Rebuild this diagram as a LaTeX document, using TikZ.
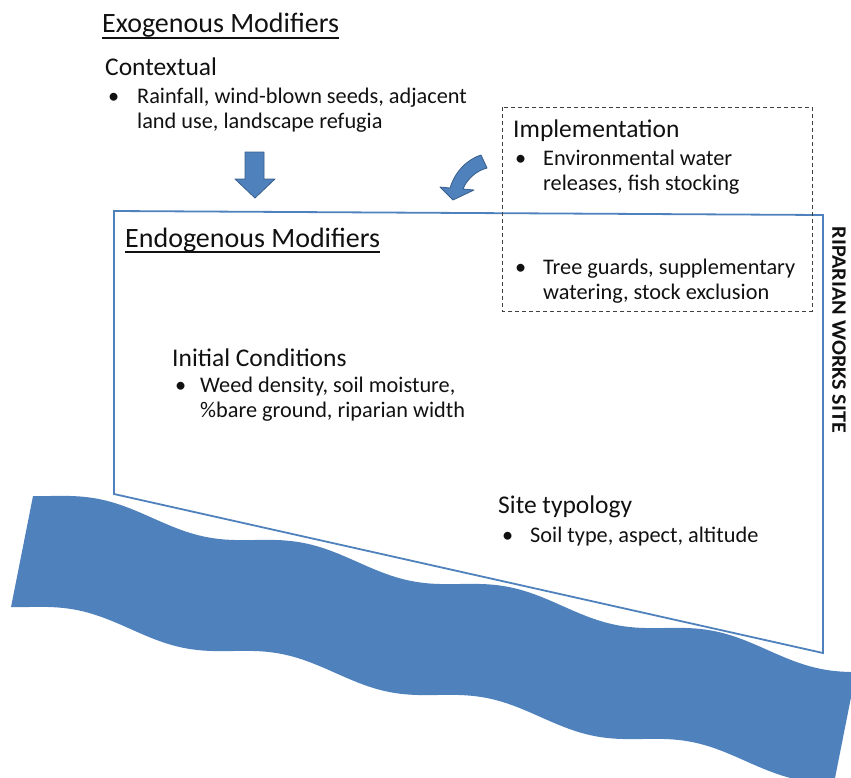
\documentclass[tikz,border=0pt]{standalone}
\usepackage{fontspec}
\usepackage{graphicx}
\setmainfont{Carlito}
\usetikzlibrary{calc}
\definecolor{ofblue}{HTML}{4F81BD}
\definecolor{ofdark}{HTML}{385D8A}
\definecolor{txt}{HTML}{111111}
\begin{document}
\begin{tikzpicture}[x=1pt,y=-1pt,
  lbl/.style={anchor=base west,inner sep=0pt,text=txt,font=\fontsize{22.3}{26}\selectfont},
  hd/.style={anchor=base west,inner sep=0pt,text=txt,font=\fontsize{28}{32}\selectfont},
  sub/.style={anchor=base west,inner sep=0pt,text=txt,font=\fontsize{25.5}{30}\selectfont},
  bul/.style={anchor=base west,inner sep=0pt,text=txt,font=\fontsize{22.3}{26}\selectfont},
  site/.style={draw=ofblue,line width=1.8pt,line join=miter},
  impl/.style={draw=black!75,line width=1pt,dash pattern=on 4pt off 3pt},
  bigarrow/.style={fill=ofblue,draw=ofdark,line width=0.8pt,line join=round}]
\useasboundingbox (0,0) rectangle (851,777);

% river
\begin{scope}
\clip (0,0) rectangle (851,777);
\fill[ofblue] plot[domain=33:856,samples=160] (\x,{496+0.2146*(\x-50)-7.5*sin(1.7561*(\x-50))})
 -- plot[domain=834:11,samples=160] (\x,{607+0.2146*(\x-28)-7.5*sin(1.7561*(\x-28))})
 -- cycle;
\end{scope}

% site polygon
\coordinate (s1) at (114,211);
\coordinate (s2) at (823,215);
\coordinate (s3) at (823,653);
\coordinate (s4) at (114,494);
\draw[site] (s1) -- (s2) -- (s3) -- (s4) -- cycle;

% implementation dashed box
\coordinate (i1) at (502,107);
\coordinate (i2) at (812,311);
\draw[impl] (i1) rectangle (i2);

% arrows
\draw[bigarrow] (245,152) -- (264,152) -- (264,179) -- (275,179) -- (255,198) -- (235,179) -- (245,179) -- cycle;
\draw[bigarrow] (481,155) -- (487,168) .. controls (476,171) and (467,179) .. (463,189) -- (474,190) -- (453,200) -- (440,187) -- (450,188) .. controls (455,172) and (466,160) .. (481,155) -- cycle;

% texts
\node[hd] (exo) at (102,32) {Exogenous Modifiers};
\draw[txt,line width=1.4pt] ($(exo.base west)+(0,6)$) -- ($(exo.base east)+(0,6)$);
\node[sub] (ctx) at (105,75) {Contextual};
\node[bul] (b1) at (108,103) {•};
\node[lbl] (c1) at (137,103) {Rainfall, wind-blown seeds, adjacent};
\node[lbl] (c2) at (137,128) {land use, landscape refugia};

\node[sub] (imp) at (513,137) {Implementation};
\node[bul] (b2) at (515,165) {•};
\node[lbl] (m1) at (543,165) {Environmental water};
\node[lbl] (m2) at (543,190) {releases, fish stocking};
\node[bul] (b3) at (515,274) {•};
\node[lbl] (m3) at (543,274) {Tree guards, supplementary};
\node[lbl] (m4) at (543,299) {watering, stock exclusion};

\node[hd] (endo) at (125,247) {Endogenous Modifiers};
\draw[txt,line width=1.4pt] ($(endo.base west)+(0,5)$) -- ($(endo.base east)+(0,5)$);

\node[sub] (ini) at (172,366) {Initial Conditions};
\node[bul] (b4) at (175,392) {•};
\node[lbl] (n1) at (200,392) {Weed density, soil moisture,};
\node[lbl] (n2) at (200,417) {\%bare ground, riparian width};

\node[sub] (typ) at (498,513) {Site typology};
\node[bul] (b5) at (502,542) {•};
\node[lbl] (t1) at (530,542) {Soil type, aspect, altitude};

\node[inner sep=0pt,rotate=-90,text=txt,font=\fontsize{20.5}{24}\selectfont\bfseries] (rws) at (839,330) {\scalebox{1.08}[1]{RIPARIAN WORKS SITE}};
\end{tikzpicture}
\end{document}
